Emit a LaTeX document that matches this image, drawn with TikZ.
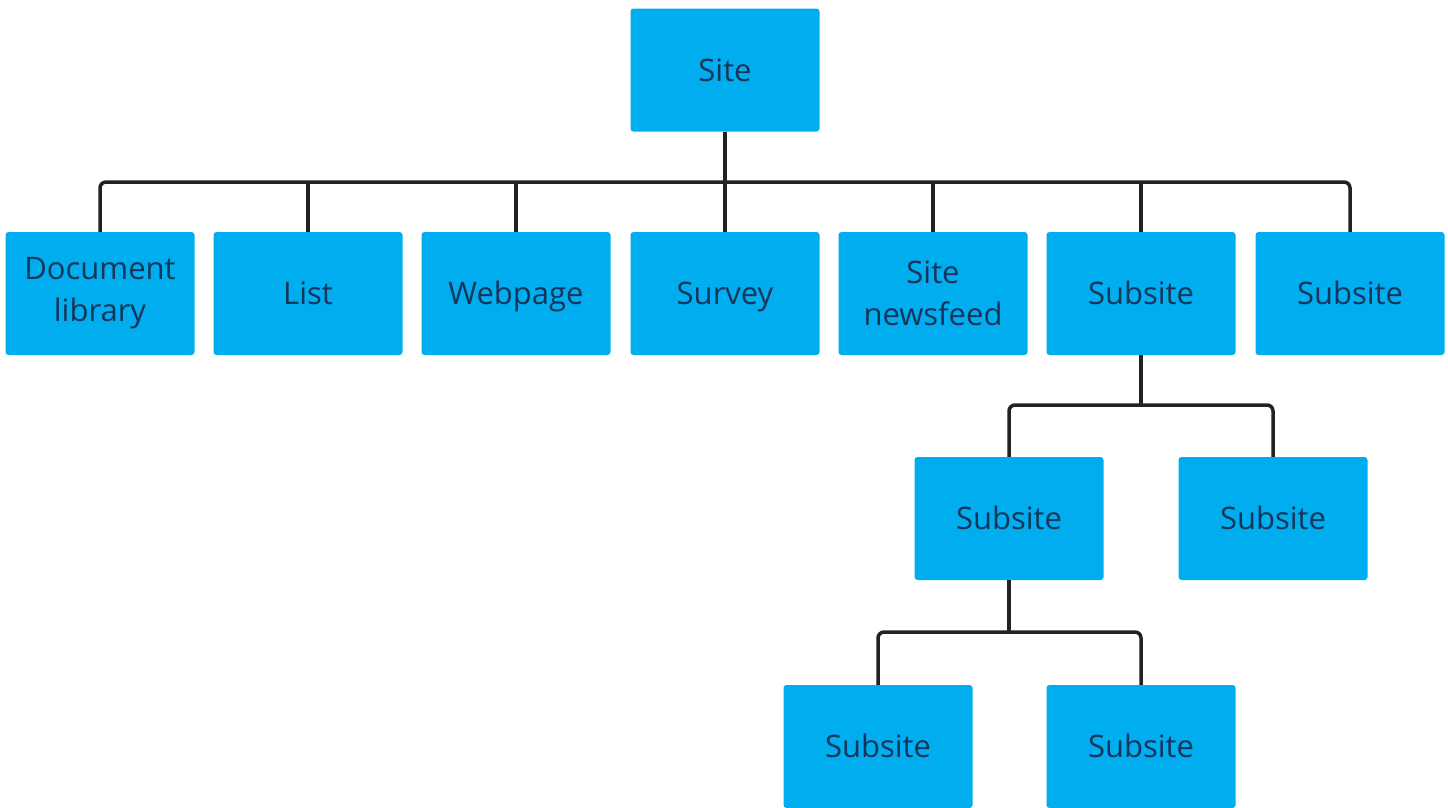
\documentclass[tikz,border=0pt]{standalone}
\usepackage{fontspec}
\setmainfont{Open Sans}
\definecolor{boxblue}{HTML}{00ADEF}
\definecolor{txt}{HTML}{16355A}
\definecolor{linec}{HTML}{222222}
\begin{document}
\begin{tikzpicture}[x=1pt,y=-1pt,
 box/.style={fill=boxblue, rounded corners=3pt, minimum width=189pt, minimum height=123pt, inner sep=0pt, text=txt, font=\fontsize{31}{42}\selectfont, align=center},
 one/.style={box, text height=22pt, text depth=0pt},
 link/.style={draw=linec, line width=3.5pt, rounded corners=6pt}]
\useasboundingbox (0,0) rectangle (1448,807);
\node[one] (site) at (725,70) {Site};
\node[box] (doc) at (100,293.5) {Document\\library};
\node[one] (list) at (308,293.5) {List};
\node[one] (web) at (516,293.5) {Webpage};
\node[one] (survey) at (725,293.5) {Survey};
\node[box] (news) at (933,293.5) {Site\\newsfeed};
\node[one] (subA) at (1141,293.5) {Subsite};
\node[one] (subB) at (1350,293.5) {Subsite};
\node[one] (subC) at (1009,518.5) {Subsite};
\node[one] (subD) at (1273,518.5) {Subsite};
\node[one] (subE) at (878,746.5) {Subsite};
\node[one] (subF) at (1141,746.5) {Subsite};
\coordinate (bus1) at (725,182);
\coordinate (bus2) at (1141,405);
\coordinate (bus3) at (1009,632);
\draw[link] (doc.north) |- (bus1) -| (subB.north);
\draw[link] (site.south) -- (survey.north);
\foreach \n in {list,web,news,subA}{\draw[link] (\n.north) -- (\n.north |- bus1);}
\draw[link] (subC.north) |- (bus2) -| (subD.north);
\draw[link] (subA.south) -- (bus2);
\draw[link] (subE.north) |- (bus3) -| (subF.north);
\draw[link] (subC.south) -- (bus3);
\end{tikzpicture}
\end{document}
